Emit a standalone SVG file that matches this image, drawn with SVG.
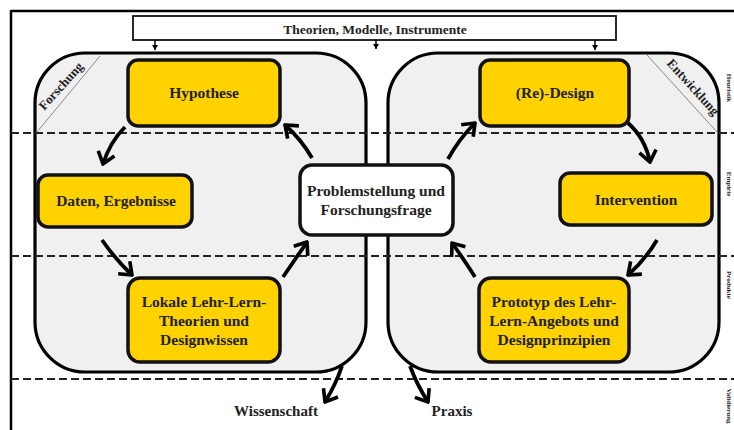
<svg xmlns="http://www.w3.org/2000/svg" width="734" height="430" viewBox="0 0 734 430">
<style>
.panel{fill:#f0f0f0;stroke:#000;stroke-width:3.2}
.node{fill:#ffd200;stroke:#111;stroke-width:3.5}
.white{fill:#fff;stroke:#111;stroke-width:3.5}
.t{font-family:"Liberation Serif","Times New Roman",serif;font-weight:bold;fill:#222;text-anchor:middle}
.nt{font-size:15.5px}
.dash{stroke:#222;stroke-width:2;stroke-dasharray:8 4;fill:none}
.arr{fill:none;stroke:#000;stroke-width:3.8;stroke-linecap:butt;marker-end:url(#ah)}
.side{font-size:7px}
.corner{font-size:13px}
</style>
<defs>
<marker id="ah" viewBox="-14 -11 16 22" markerWidth="16" markerHeight="22" refX="0" refY="0" orient="auto" markerUnits="userSpaceOnUse">
<path d="M-11,-8.5 L0,0 L-11,8.5" fill="none" stroke="#000" stroke-width="3.6" stroke-linejoin="miter"/>
</marker>
<marker id="sm" viewBox="-6 -4 7 8" markerWidth="7" markerHeight="8" refX="0" refY="0" orient="auto" markerUnits="userSpaceOnUse">
<path d="M-5,-3 L0,0 L-5,3 Z" fill="#000"/>
</marker>
</defs>

<g id="frame">
<line x1="11" y1="11" x2="734" y2="11" stroke="#000" stroke-width="2.5"/>
<line x1="11" y1="10" x2="11" y2="430" stroke="#000" stroke-width="2.5"/>
</g>

<g id="theorien">
<rect x="133" y="16" width="483" height="24" fill="#fff" stroke="#111" stroke-width="1.8"/>
<text class="t" x="375" y="33.5" font-size="13.5">Theorien, Modelle, Instrumente</text>
</g>

<g id="panel-forschung">
<rect class="panel" x="35" y="53" width="331" height="319" rx="50" ry="50"/>
<line x1="37" y1="132" x2="100" y2="56" stroke="#888" stroke-width="1"/>
<text class="t corner" transform="translate(64,89) rotate(-48)">Forschung</text>
</g>

<g id="panel-entwicklung">
<rect class="panel" x="388" y="53" width="331" height="319" rx="50" ry="50"/>
<line x1="647" y1="55" x2="717" y2="132" stroke="#888" stroke-width="1"/>
<text class="t corner" transform="translate(690,90) rotate(48)">Entwicklung</text>
</g>

<g id="dashes">
<line class="dash" x1="11" y1="133" x2="734" y2="133"/>
<line class="dash" x1="11" y1="256" x2="734" y2="256"/>
<line class="dash" x1="11" y1="379" x2="734" y2="379"/>
</g>

<g id="side-labels">
<text class="t side" transform="translate(727,88) rotate(90)">Heuristik</text>
<text class="t side" transform="translate(727,184) rotate(90)">Empirie</text>
<text class="t side" transform="translate(727,285) rotate(90)">Produkte</text>
<text class="t side" transform="translate(727,406) rotate(90)">Validierung</text>
</g>

<g id="connectors">
<line x1="155" y1="40" x2="155" y2="50" stroke="#000" stroke-width="1.5" marker-end="url(#sm)"/>
<line x1="376" y1="40" x2="376" y2="49" stroke="#000" stroke-width="1.5" marker-end="url(#sm)"/>
<line x1="595" y1="40" x2="595" y2="50" stroke="#000" stroke-width="1.5" marker-end="url(#sm)"/>
<path class="arr" d="M125,127 Q110,142 103,164"/>
<path class="arr" d="M102,240 Q116,260 132,275"/>
<path class="arr" d="M283,277 Q296,258 307,242"/>
<path class="arr" d="M312,158 Q301,139 285,125"/>
<path class="arr" d="M448,159 Q459,139 475,123"/>
<path class="arr" d="M628,123 Q645,138 650,162"/>
<path class="arr" d="M657,240 Q645,260 628,275"/>
<path class="arr" d="M475,277 Q463,258 452,243"/>
<path class="arr" d="M342,366 Q336,384 325,402"/>
<path class="arr" d="M410,366 Q417,385 428,402"/>
</g>

<g id="hypothese">
<rect class="node" x="128" y="60" width="152" height="66" rx="10"/>
<text class="t nt" x="204" y="98">Hypothese</text>
</g>
<g id="redesign">
<rect class="node" x="480" y="60" width="149" height="66" rx="10"/>
<text class="t nt" x="555" y="98">(Re)-Design</text>
</g>
<g id="daten">
<rect class="node" x="38" y="175" width="154" height="52" rx="10"/>
<text class="t nt" x="116" y="206">Daten, Ergebnisse</text>
</g>
<g id="intervention">
<rect class="node" x="560" y="173" width="152" height="52" rx="10"/>
<text class="t nt" x="636" y="205">Intervention</text>
</g>
<g id="problemstellung">
<rect class="white" x="300" y="165" width="153" height="70" rx="12"/>
<text class="t nt" x="376" y="196">Problemstellung und</text>
<text class="t nt" x="376" y="215">Forschungsfrage</text>
</g>
<g id="lokale">
<rect class="node" x="128" y="278" width="152" height="84" rx="12"/>
<text class="t nt" x="204" y="307">Lokale Lehr-Lern-</text>
<text class="t nt" x="204" y="326">Theorien und</text>
<text class="t nt" x="204" y="345">Designwissen</text>
</g>
<g id="prototyp">
<rect class="node" x="479" y="278" width="150" height="84" rx="12"/>
<text class="t nt" x="554" y="307">Prototyp des Lehr-</text>
<text class="t nt" x="554" y="326">Lern-Angebots und</text>
<text class="t nt" x="554" y="345">Designprinzipien</text>
</g>

<g id="wissenschaft"><text class="t" x="276" y="416" font-size="15px">Wissenschaft</text></g>
<g id="praxis"><text class="t" x="452" y="416" font-size="15px">Praxis</text></g>
</svg>
